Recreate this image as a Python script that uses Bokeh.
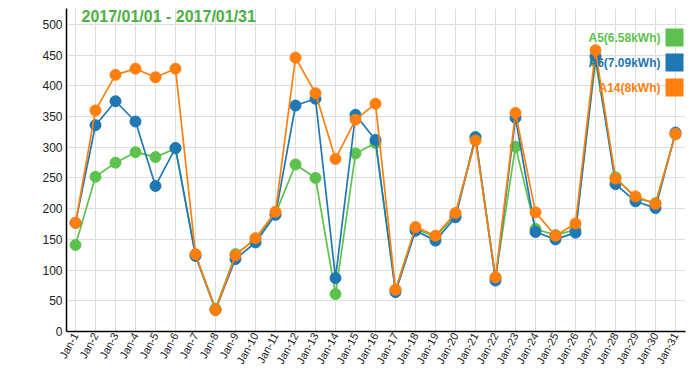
import math
from bokeh.plotting import figure
from bokeh.models import Range1d, FixedTicker, Label, BoxAnnotation
from bokeh.embed import file_html
from bokeh.resources import INLINE

days = list(range(1, 32))
labels = [f"Jan-{d}" for d in days]
a5 = [141, 252, 275, 292, 284, 298, 125, 37, 126, 150, 192, 272, 250, 61, 290, 307, 68,
      167, 154, 190, 317, 88, 301, 167, 157, 166, 440, 251, 217, 209, 321]
a6 = [177, 336, 375, 342, 237, 299, 123, 35, 118, 145, 190, 368, 379, 87, 353, 312, 64,
      164, 148, 186, 316, 83, 348, 162, 150, 161, 448, 240, 212, 201, 324]
a14 = [177, 360, 418, 428, 414, 428, 126, 35, 124, 152, 195, 446, 388, 281, 345, 371, 68,
       170, 156, 193, 311, 88, 356, 194, 156, 176, 458, 249, 220, 208, 322]
series_names = ["A5(6.58kWh)", "A6(7.09kWh)", "A14(8kWh)"]
series_values = [a5, a6, a14]
series_colors = ["#5cc24d", "#1f77b4", "#ff7f0e"]
y_ticks = list(range(0, 501, 50))
title_text = "2017/01/01 - 2017/01/31"
y_title = "Energy (Wh)"

p = figure(width=691, height=377, output_backend="svg", toolbar_location=None,
           x_range=Range1d(0.55, 31.5), y_range=Range1d(0, 526),
           min_border_left=66, min_border_right=6, min_border_top=8, min_border_bottom=46)
p.outline_line_color = None
p.background_fill_color = "white"
p.border_fill_color = "white"

p.xaxis.ticker = FixedTicker(ticks=days)
p.xaxis.major_label_overrides = {d: l for d, l in zip(days, labels)}
p.xaxis.major_label_orientation = 1.07
p.yaxis.ticker = FixedTicker(ticks=y_ticks)
for ax in (p.xaxis, p.yaxis):
    ax.axis_line_color = "black"
    ax.axis_line_width = 1.5
    ax.major_tick_line_color = None
    ax.minor_tick_line_color = None
    ax.major_tick_in = 0
    ax.major_tick_out = 0
    ax.major_label_text_font = "Liberation Sans"
    ax.major_label_text_color = "#222222"
p.xaxis.major_label_text_font_size = "11px"
p.yaxis.major_label_text_font_size = "12px"
p.xaxis.major_label_standoff = 2
p.yaxis.major_label_standoff = 4
p.xgrid.grid_line_color = "#dddddd"
p.ygrid.grid_line_color = "#dddddd"

for vals, col in zip(series_values, series_colors):
    p.line(days, vals, line_color=col, line_width=1.7)
    p.scatter(days, vals, size=11, fill_color=col, line_color=col)

p.add_layout(Label(x=81, y=16, x_units="canvas", y_units="canvas", text=title_text,
                   text_font="Liberation Sans", text_font_style="bold", text_font_size="16px",
                   text_color="#4caf45", text_baseline="middle", text_align="left"))
p.add_layout(Label(x=12, y=140, x_units="canvas", y_units="canvas", text=y_title,
                   angle=math.pi / 2, text_font="Liberation Sans", text_font_size="12px",
                   text_color="#3f0f3f", text_baseline="middle", text_align="center"))

for i, (name, col) in enumerate(zip(series_names, series_colors)):
    cy = 37 + 25 * i
    p.add_layout(Label(x=660, y=cy, x_units="canvas", y_units="canvas", text=name,
                       text_font="Liberation Sans", text_font_style="bold",
                       text_font_size="12px", text_color=col,
                       text_baseline="middle", text_align="right"))
    p.add_layout(BoxAnnotation(left=665, right=683, top=cy - 9, bottom=cy + 9,
                               left_units="canvas", right_units="canvas",
                               top_units="canvas", bottom_units="canvas",
                               fill_color=col, fill_alpha=1.0, line_color=None))

open("out.html", "w").write(file_html(p, INLINE))
